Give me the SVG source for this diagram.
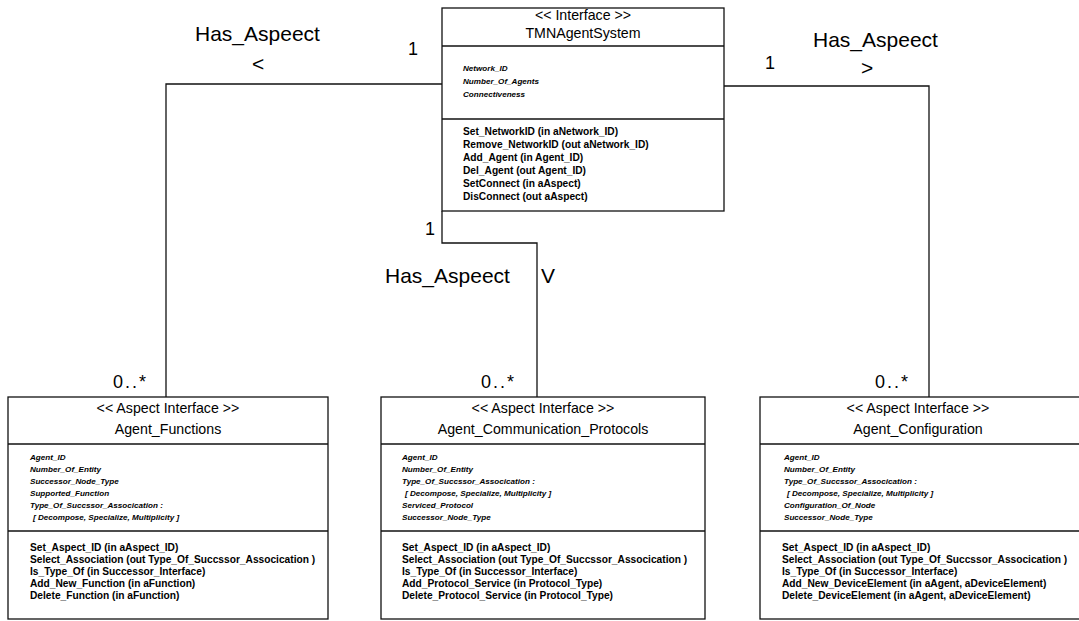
<svg xmlns="http://www.w3.org/2000/svg" width="1079" height="621" viewBox="0 0 1079 621">
<style>
.box{fill:#fff;stroke:#111;stroke-width:1.3}
.div{stroke:#111;stroke-width:1.3}
.hd{font-family:"Liberation Sans",Arial,sans-serif;font-size:14.2px;fill:#000;text-anchor:middle}
.at{font-family:"Liberation Sans",Arial,sans-serif;font-size:8.1px;font-weight:bold;font-style:italic;fill:#000}
.op{font-family:"Liberation Sans",Arial,sans-serif;font-size:10.2px;font-weight:bold;fill:#000}
.lb{font-family:"Liberation Sans",Arial,sans-serif;font-size:21px;fill:#000}
.m{font-family:"Liberation Sans",Arial,sans-serif;font-size:18px;fill:#000}
.con{fill:none;stroke:#111;stroke-width:1.3}
</style>
<rect width="1079" height="621" fill="#fff"/>
<g id="connectors">
<polyline class="con" points="442,84 166,84 166,397"/>
<polyline class="con" points="724,86 929,86 929,397"/>
<polyline class="con" points="442,211 442,243 537,243 537,397"/>
</g>
<g id="labels">
<text class="lb" x="195" y="41">Has_Aspeect</text>
<text class="lb" x="252" y="71">&lt;</text>
<text class="m" x="408" y="55">1</text>
<text class="lb" x="813" y="47">Has_Aspeect</text>
<text class="lb" x="861" y="75">&gt;</text>
<text class="m" x="765" y="69">1</text>
<text class="m" x="425" y="235">1</text>
<text class="lb" x="385" y="283">Has_Aspeect</text>
<text class="lb" x="541" y="283">V</text>
<text class="m" x="113" y="388" letter-spacing="2">0..*</text>
<text class="m" x="481" y="388" letter-spacing="2">0..*</text>
<text class="m" x="875" y="388" letter-spacing="2">0..*</text>
</g>
<g id="TMNAgentSystem">
<rect class="box" x="442" y="8" width="282" height="203"/>
<line class="div" x1="442" y1="46" x2="724" y2="46"/>
<line class="div" x1="442" y1="119" x2="724" y2="119"/>
<text class="hd" x="583" y="20">&lt;&lt; Interface &gt;&gt;</text>
<text class="hd" x="583" y="38">TMNAgentSystem</text>
<text class="at" x="463" y="71">Network_ID</text>
<text class="at" x="463" y="84">Number_Of_Agents</text>
<text class="at" x="463" y="97">Connectiveness</text>
<text class="op" x="463" y="135">Set_NetworkID (in aNetwork_ID)</text>
<text class="op" x="463" y="148">Remove_NetworkID (out aNetwork_ID)</text>
<text class="op" x="463" y="161">Add_Agent (in Agent_ID)</text>
<text class="op" x="463" y="174">Del_Agent (out Agent_ID)</text>
<text class="op" x="463" y="187">SetConnect (in aAspect)</text>
<text class="op" x="463" y="200">DisConnect (out aAspect)</text>
</g>
<g id="Agent_Functions">
<rect class="box" x="8" y="397" width="320" height="222"/>
<line class="div" x1="8" y1="444" x2="328" y2="444"/>
<line class="div" x1="8" y1="531" x2="328" y2="531"/>
<text class="hd" x="168" y="413">&lt;&lt; Aspect Interface &gt;&gt;</text>
<text class="hd" x="168" y="434">Agent_Functions</text>
<text class="at" x="30" y="460">Agent_ID</text>
<text class="at" x="30" y="472">Number_Of_Entity</text>
<text class="at" x="30" y="484">Successor_Node_Type</text>
<text class="at" x="30" y="496">Supported_Function</text>
<text class="at" x="30" y="508">Type_Of_Succssor_Assocication :</text>
<text class="at" x="33" y="520">[ Decompose, Specialize, Multiplicity ]</text>
<text class="op" x="30" y="551">Set_Aspect_ID (in aAspect_ID)</text>
<text class="op" x="30" y="563">Select_Association (out Type_Of_Succssor_Assocication )</text>
<text class="op" x="30" y="575">Is_Type_Of (in Successor_Interface)</text>
<text class="op" x="30" y="587">Add_New_Function (in aFunction)</text>
<text class="op" x="30" y="599">Delete_Function (in aFunction)</text>
</g>
<g id="Agent_Communication_Protocols">
<rect class="box" x="381" y="397" width="324" height="222"/>
<line class="div" x1="381" y1="444" x2="705" y2="444"/>
<line class="div" x1="381" y1="531" x2="705" y2="531"/>
<text class="hd" x="543" y="413">&lt;&lt; Aspect Interface &gt;&gt;</text>
<text class="hd" x="543" y="434">Agent_Communication_Protocols</text>
<text class="at" x="402" y="460">Agent_ID</text>
<text class="at" x="402" y="472">Number_Of_Entity</text>
<text class="at" x="402" y="484">Type_Of_Succssor_Assocication :</text>
<text class="at" x="405" y="496">[ Decompose, Specialize, Multiplicity ]</text>
<text class="at" x="402" y="508">Serviced_Protocol</text>
<text class="at" x="402" y="520">Successor_Node_Type</text>
<text class="op" x="402" y="551">Set_Aspect_ID (in aAspect_ID)</text>
<text class="op" x="402" y="563">Select_Association (out Type_Of_Succssor_Assocication )</text>
<text class="op" x="402" y="575">Is_Type_Of (in Successor_Interface)</text>
<text class="op" x="402" y="587">Add_Protocol_Service (in Protocol_Type)</text>
<text class="op" x="402" y="599">Delete_Protocol_Service (in Protocol_Type)</text>
</g>
<g id="Agent_Configuration">
<rect class="box" x="760" y="397" width="338" height="222"/>
<line class="div" x1="760" y1="444" x2="1098" y2="444"/>
<line class="div" x1="760" y1="531" x2="1098" y2="531"/>
<text class="hd" x="918" y="413">&lt;&lt; Aspect Interface &gt;&gt;</text>
<text class="hd" x="918" y="434">Agent_Configuration</text>
<text class="at" x="784" y="460">Agent_ID</text>
<text class="at" x="784" y="472">Number_Of_Entity</text>
<text class="at" x="784" y="484">Type_Of_Succssor_Assocication :</text>
<text class="at" x="787" y="496">[ Decompose, Specialize, Multiplicity ]</text>
<text class="at" x="784" y="508">Configuration_Of_Node</text>
<text class="at" x="784" y="520">Successor_Node_Type</text>
<text class="op" x="782" y="551">Set_Aspect_ID (in aAspect_ID)</text>
<text class="op" x="782" y="563">Select_Association (out Type_Of_Succssor_Assocication )</text>
<text class="op" x="782" y="575">Is_Type_Of (in Successor_Interface)</text>
<text class="op" x="782" y="587">Add_New_DeviceElement (in aAgent, aDeviceElement)</text>
<text class="op" x="782" y="599">Delete_DeviceElement (in aAgent, aDeviceElement)</text>
</g>
</svg>
